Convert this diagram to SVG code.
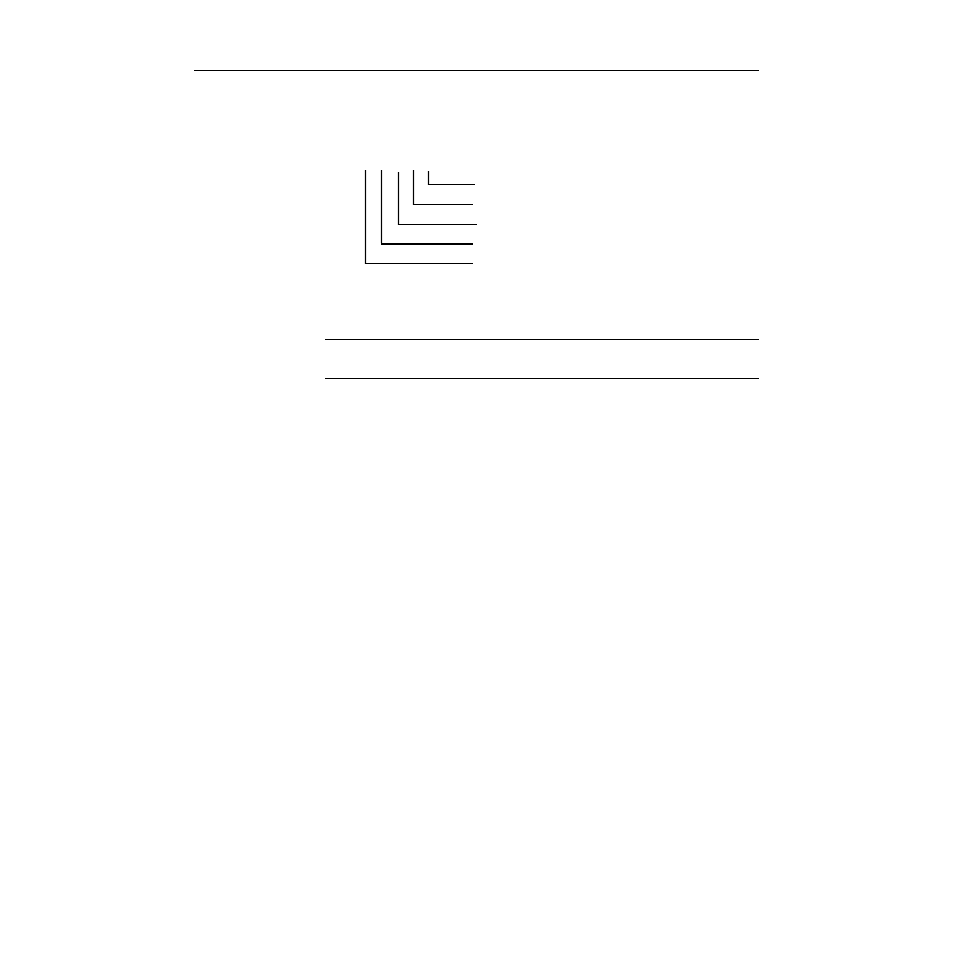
<svg xmlns="http://www.w3.org/2000/svg" width="954" height="954" viewBox="0 0 954 954">
<style>
.ln{stroke:#000;stroke-width:1.2;fill:none}
.thick{stroke:#000;stroke-width:2;fill:none}
</style>
<rect width="954" height="954" fill="#fff"/>
<g id="rules">
<line class="ln" x1="194" y1="70.5" x2="759" y2="70.5"/>
<line class="ln" x1="325" y1="339.5" x2="759" y2="339.5"/>
<line class="ln" x1="325" y1="378.5" x2="759" y2="378.5"/>
</g>
<g id="connectors">
<polyline class="ln" points="428.5,171 428.5,184.5 475,184.5"/>
<polyline class="ln" points="413.5,170 413.5,204.5 473,204.5"/>
<polyline class="ln" points="398.5,172 398.5,224.5 477,224.5"/>
<polyline class="ln" points="381.5,170 381.5,243"/>
<line class="thick" x1="381" y1="244" x2="473" y2="244"/>
<polyline class="ln" points="365.5,170 365.5,263.5 473,263.5"/>
</g>
</svg>
